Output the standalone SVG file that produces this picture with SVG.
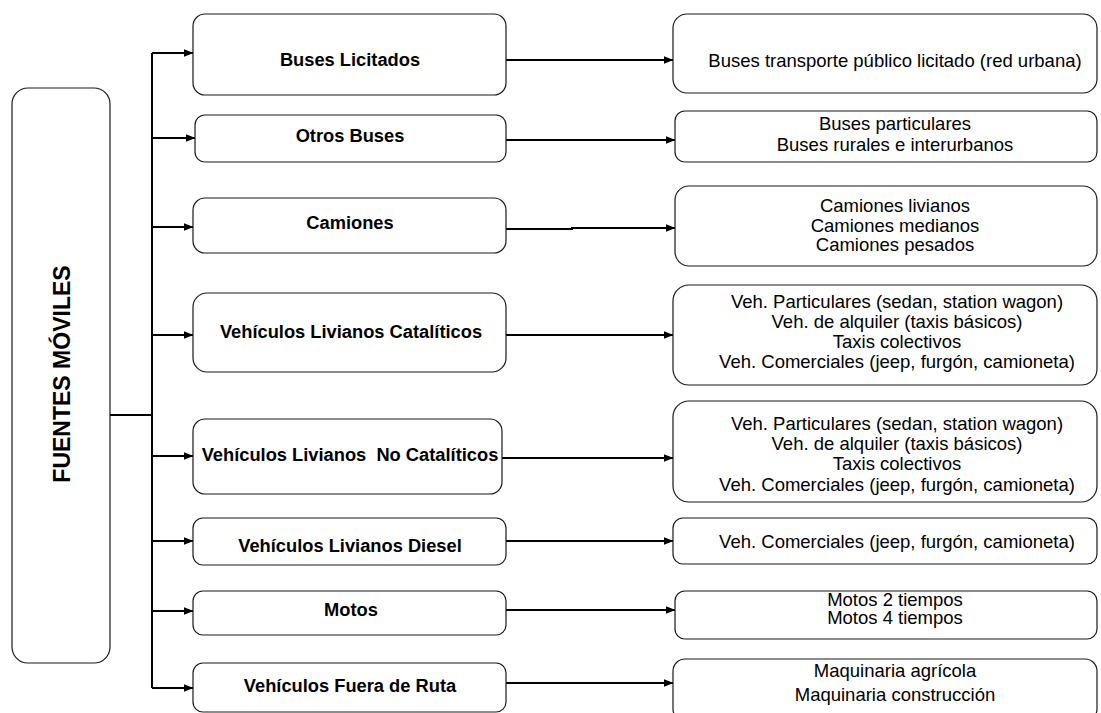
<svg xmlns="http://www.w3.org/2000/svg" width="1101" height="713" viewBox="0 0 1101 713">
  <defs>
    <marker id="ah" markerWidth="10" markerHeight="8" refX="9.5" refY="4" orient="auto" markerUnits="userSpaceOnUse">
      <path d="M0,0 L10,4 L0,8 z" fill="#000"/>
    </marker>
    <style>
      .box{fill:#fff;stroke:#1a1a1a;stroke-width:1.2}
      .lbl{font-family:"Liberation Sans",Arial,sans-serif;font-weight:bold;font-size:18.3px;text-anchor:middle;fill:#000;white-space:pre}
      .txt{font-family:"Liberation Sans",Arial,sans-serif;font-size:18.5px;text-anchor:middle;fill:#000}
      .wire{fill:none;stroke:#000;stroke-width:2}
      .arr{fill:none;stroke:#000;stroke-width:2;marker-end:url(#ah)}
    </style>
  </defs>
  <rect width="1101" height="713" fill="#fff"/>

  <!-- root -->
  <g id="fuentes-moviles">
    <rect class="box" x="12" y="88" width="98" height="575" rx="16"/>
    <text class="lbl" style="font-size:23px" transform="translate(70,374) rotate(-90)">FUENTES MÓVILES</text>
  </g>

  <!-- connectors -->
  <g id="connectors">
    <path class="wire" d="M110 415 H152 M152 53 V688"/>
    <path class="arr" d="M152 53 H193"/>
    <path class="arr" d="M152 138 H195"/>
    <path class="arr" d="M152 227 H193"/>
    <path class="arr" d="M152 335 H193"/>
    <path class="arr" d="M152 456 H193"/>
    <path class="arr" d="M152 541 H193"/>
    <path class="arr" d="M152 611 H193"/>
    <path class="arr" d="M152 688 H193"/>

    <path class="arr" d="M506 60 H673"/>
    <path class="arr" d="M506 140 H675"/>
    <path class="arr" d="M506 229 H572 V228 H675"/>
    <path class="arr" d="M506 335 H673"/>
    <path class="arr" d="M502 458 H673"/>
    <path class="arr" d="M506 541 H673"/>
    <path class="arr" d="M506 610 H675"/>
    <path class="arr" d="M506 683 H673"/>
  </g>

  <!-- categories -->
  <g id="buses-licitados">
    <rect class="box" x="193" y="14" width="313" height="81" rx="12"/>
    <text class="lbl" x="350" y="66">Buses Licitados</text>
  </g>
  <g id="otros-buses">
    <rect class="box" x="195" y="115" width="311" height="47" rx="10"/>
    <text class="lbl" x="350" y="142">Otros Buses</text>
  </g>
  <g id="camiones">
    <rect class="box" x="193" y="198" width="313" height="55" rx="12"/>
    <text class="lbl" x="350" y="229">Camiones</text>
  </g>
  <g id="livianos-cataliticos">
    <rect class="box" x="193" y="293" width="313" height="79" rx="14"/>
    <text class="lbl" x="351" y="338">Vehículos Livianos Catalíticos</text>
  </g>
  <g id="livianos-no-cataliticos">
    <rect class="box" x="193" y="419" width="309" height="75" rx="12"/>
    <text class="lbl" x="350" y="461">Vehículos Livianos  No Catalíticos</text>
  </g>
  <g id="livianos-diesel">
    <rect class="box" x="193" y="518" width="313" height="47" rx="10"/>
    <text class="lbl" x="350" y="552">Vehículos Livianos Diesel</text>
  </g>
  <g id="motos">
    <rect class="box" x="193" y="591" width="313" height="44" rx="10"/>
    <text class="lbl" x="351" y="616">Motos</text>
  </g>
  <g id="fuera-de-ruta">
    <rect class="box" x="193" y="663" width="313" height="49" rx="10"/>
    <text class="lbl" x="350" y="692">Vehículos Fuera de Ruta</text>
  </g>

  <!-- details -->
  <g id="det-buses-licitados">
    <rect class="box" x="673" y="14" width="424" height="79" rx="14"/>
    <text class="txt" x="895" y="67">Buses transporte público licitado (red urbana)</text>
  </g>
  <g id="det-otros-buses">
    <rect class="box" x="675" y="111" width="422" height="51" rx="10"/>
    <text class="txt" x="895" y="130">Buses particulares</text>
    <text class="txt" x="895" y="151">Buses rurales e interurbanos</text>
  </g>
  <g id="det-camiones">
    <rect class="box" x="675" y="186" width="422" height="80" rx="14"/>
    <text class="txt" x="895" y="212">Camiones livianos</text>
    <text class="txt" x="895" y="232">Camiones medianos</text>
    <text class="txt" x="895" y="251">Camiones pesados</text>
  </g>
  <g id="det-livianos-cataliticos">
    <rect class="box" x="673" y="285" width="424" height="100" rx="16"/>
    <text class="txt" x="897" y="308">Veh. Particulares (sedan, station wagon)</text>
    <text class="txt" x="897" y="328">Veh. de alquiler (taxis básicos)</text>
    <text class="txt" x="897" y="348">Taxis colectivos</text>
    <text class="txt" x="897" y="368">Veh. Comerciales (jeep, furgón, camioneta)</text>
  </g>
  <g id="det-livianos-no-cataliticos">
    <rect class="box" x="673" y="401" width="424" height="101" rx="16"/>
    <text class="txt" x="897" y="430">Veh. Particulares (sedan, station wagon)</text>
    <text class="txt" x="897" y="450">Veh. de alquiler (taxis básicos)</text>
    <text class="txt" x="897" y="470">Taxis colectivos</text>
    <text class="txt" x="897" y="491">Veh. Comerciales (jeep, furgón, camioneta)</text>
  </g>
  <g id="det-livianos-diesel">
    <rect class="box" x="673" y="518" width="424" height="46" rx="10"/>
    <text class="txt" x="897" y="548">Veh. Comerciales (jeep, furgón, camioneta)</text>
  </g>
  <g id="det-motos">
    <rect class="box" x="675" y="591" width="422" height="48" rx="10"/>
    <text class="txt" x="895" y="606">Motos 2 tiempos</text>
    <text class="txt" x="895" y="624">Motos 4 tiempos</text>
  </g>
  <g id="det-fuera-de-ruta">
    <rect class="box" x="673" y="659" width="424" height="62" rx="12"/>
    <text class="txt" x="895" y="677">Maquinaria agrícola</text>
    <text class="txt" x="895" y="701">Maquinaria construcción</text>
  </g>
</svg>
